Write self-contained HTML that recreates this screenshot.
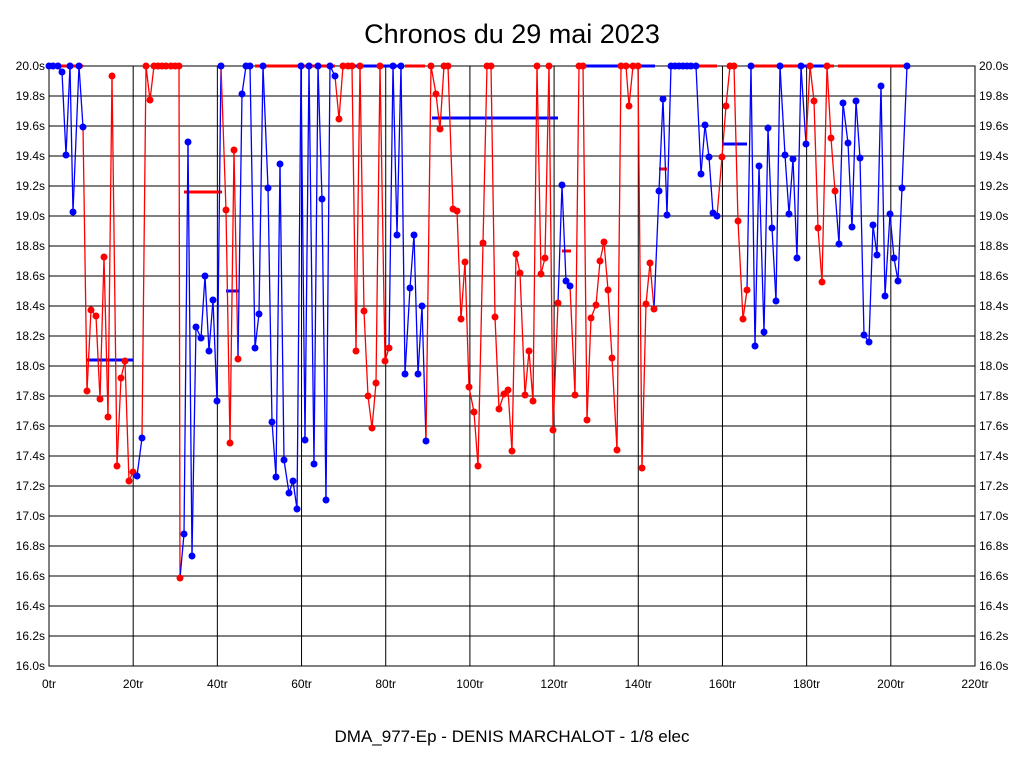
<!DOCTYPE html>
<html><head><meta charset="utf-8"><style>
html,body{margin:0;padding:0;background:#fff;}
svg{display:block;font-family:"Liberation Sans",sans-serif;}
</style></head><body>
<svg id="s" width="1024" height="768" viewBox="0 0 1024 768" xmlns="http://www.w3.org/2000/svg">
<rect x="0" y="0" width="1024" height="768" fill="#fff"/>
<text x="512" y="43" font-size="27" text-anchor="middle">Chronos du 29 mai 2023</text>
<text x="512" y="742" font-size="17" text-anchor="middle">DMA_977-Ep - DENIS MARCHALOT - 1/8 elec</text>
<g id="grid"></g>
<g id="data"></g>
</svg>
<script>
var ns="http://www.w3.org/2000/svg";
function el(p,t,a,txt){var e=document.createElementNS(ns,t);for(var k in a)e.setAttribute(k,a[k]);if(txt!==undefined)e.textContent=txt;p.appendChild(e);return e;}
var g=document.getElementById('grid');
var L=49,R=975,T=66,B=666;
for(var i=0;i<=20;i++){var y=T+i*30;el(g,'line',{x1:L,x2:R,y1:y,y2:y,stroke:'#000','stroke-width':1});
var v=(20-i*0.2).toFixed(1)+'s';
el(g,'text',{x:L-4,y:y+4,'font-size':12,'text-anchor':'end'},v);
el(g,'text',{x:R+4,y:y+4,'font-size':12},v);}
for(var j=0;j<=11;j++){var x=L+j*(R-L)/11;el(g,'line',{x1:x,x2:x,y1:T,y2:B,stroke:'#000','stroke-width':1});
el(g,'text',{x:x,y:688,'font-size':12,'text-anchor':'middle'},(j*20)+'tr');}
el(g,'rect',{x:L,y:T,width:R-L,height:B-T,fill:'none',stroke:'#000'});
var pts=[
['b',49,66],['b',53,66],['b',58,66],['b',62,72],['b',66,155],['b',70,66],['b',73,212],['b',79,66],['b',83,127],
['r',87,391],['r',91,310],['r',96,316],['r',100,399],['r',104,257],['r',108,417],['r',112,76],['r',117,466],['r',121,378],['r',125,361],['r',129,481],['r',133,472],
['b',137,476],['b',142,438],
['r',146,66],['r',150,100],['r',154,66],['r',158,66],['r',162,66],['r',166,66],['r',171,66],['r',175,66],['r',179,66],['r',180,578],
['b',184,534],['b',188,142],['b',192,556],['b',196,327],['b',201,338],['b',205,276],['b',209,351],['b',213,300],['b',217,401],['b',221,66],
['r',226,210],['r',230,443],['r',234,150],['r',238,359],
['b',242,94],['b',246,66],['b',250,66],['b',255,348],['b',259,314],['b',263,66],['b',268,188],['b',272,422],['b',276,477],['b',280,164],['b',284,460],['b',289,493],['b',293,481],['b',297,509],['b',301,66],['b',305,440],['b',309,66],['b',314,464],['b',318,66],['b',322,199],['b',326,500],['b',330,66],['b',335,76],
['r',339,119],['r',343,66],['r',348,66],['r',352,66],['r',356,351],['r',360,66],['r',364,311],['r',368,396],['r',372,428],['r',376,383],['r',380,66],['r',385,361],['r',389,348],
['b',393,66],['b',397,235],['b',401,66],['b',405,374],['b',410,288],['b',414,235],['b',418,374],['b',422,306],['b',426,441],
['r',431,66],['r',436,94],['r',440,129],['r',444,66],['r',448,66],['r',453,209],['r',457,211],['r',461,319],['r',465,262],['r',469,387],['r',474,412],['r',478,466],['r',483,243],['r',487,66],['r',491,66],['r',495,317],['r',499,409],['r',504,394],['r',508,390],['r',512,451],['r',516,254],['r',520,273],['r',525,395],['r',529,351],['r',533,401],['r',537,66],['r',541,274],['r',545,258],['r',549,66],['r',553,430],['r',558,303],
['b',562,185],['b',566,281],['b',570,286],
['r',575,395],['r',579,66],['r',583,66],['r',587,420],['r',591,318],['r',596,305],['r',600,261],['r',604,242],['r',608,290],['r',612,358],['r',617,450],['r',621,66],['r',626,66],['r',629,106],['r',633,66],['r',638,66],['r',642,468],['r',646,304],['r',650,263],['r',654,309],
['b',659,191],['b',663,99],['b',667,215],['b',671,66],['b',675,66],['b',679,66],['b',683,66],['b',687,66],['b',691,66],['b',696,66],['b',701,174],['b',705,125],['b',709,157],['b',713,213],['b',717,216],
['r',722,157],['r',726,106],['r',730,66],['r',734,66],['r',738,221],['r',743,319],['r',747,290],
['b',751,66],['b',755,346],['b',759,166],['b',764,332],['b',768,128],['b',772,228],['b',776,301],['b',780,66],['b',785,155],['b',789,214],['b',793,159],['b',797,258],['b',801,66],['b',806,144],
['r',810,66],['r',814,101],['r',818,228],['r',822,282],['r',827,66],['r',831,138],['r',835,191],
['b',839,244],['b',843,103],['b',848,143],['b',852,227],['b',856,101],['b',860,158],['b',864,335],['b',869,342],['b',873,225],['b',877,255],['b',881,86],['b',885,296],['b',890,214],['b',894,258],['b',898,281],['b',902,188],['b',907,66]
];
var d=document.getElementById('data');
var col={b:'#0000ff',r:'#ff0000'};
var bars=[['b',87,133,360],['r',184,222,192],['b',226,239,291],['b',432,558,118],['r',562,571,251],['r',659,667,169],['b',722,747,144],
['r',53,83,66],['r',255,335,66],['b',355,400,66],['r',405,425,66],['b',580,655,66],['r',696,717,66],['r',751,834,66],['b',800,830,66],['r',838,905,66]];
bars.forEach(function(b){el(d,'line',{x1:b[1],x2:b[2],y1:b[3],y2:b[3],stroke:col[b[0]],'stroke-width':3});});
for(var i=1;i<pts.length;i++){var a=pts[i-1],b=pts[i];
el(d,'line',{x1:a[1],y1:a[2],x2:b[1],y2:b[2],stroke:col[b[0]],'stroke-width':1.3});}
pts.forEach(function(p){el(d,'circle',{cx:p[1],cy:p[2],r:3.5,fill:col[p[0]]});});
</script>
</body></html>
